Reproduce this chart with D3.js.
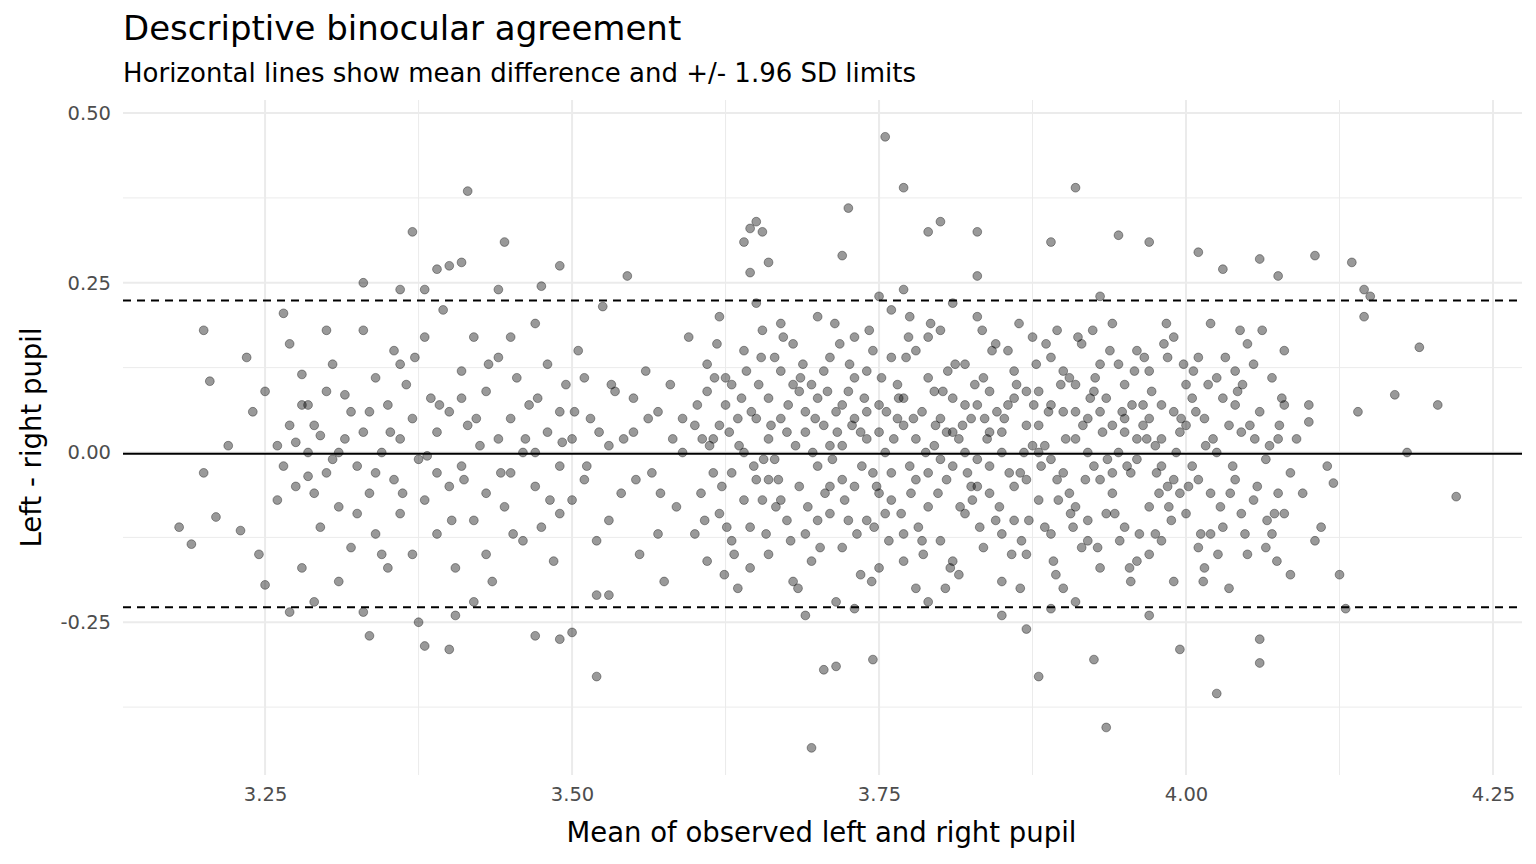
<!DOCTYPE html>
<html>
<head>
<meta charset="utf-8">
<script src="https://cdn.jsdelivr.net/npm/d3@7"></script>
<style>
  body { margin: 0; background: #fff; }
  text { font-family: "DejaVu Sans", sans-serif; }
</style>
</head>
<body>
<svg id="chart" width="1536" height="864"></svg>
<script>
// mean of left/right pupil vs left - right difference
const outerPoints = [
  [3.18,-0.11],[3.19,-0.135],[3.20,0.18],[3.20,-0.03],[3.205,0.105],[3.21,-0.095],[3.22,0.01],[3.23,-0.115],
  [3.235,0.14],[3.24,0.06],[3.245,-0.15],[3.25,0.09],[3.25,-0.195],[3.26,-0.07],[3.265,0.205],[3.27,0.16],
  [3.27,-0.235],[3.28,0.115],[3.285,0.07],[3.29,-0.22],[3.30,0.18],[3.31,-0.19],[3.33,0.25],[3.335,-0.27],
  [3.33,-0.235],[3.36,0.24],[3.37,0.325],[3.375,-0.25],[3.38,-0.285],[3.38,0.24],[3.39,0.27],[3.40,0.275],
  [3.40,-0.29],[3.405,-0.24],[3.41,0.28],[3.415,0.385],[3.42,-0.22],[3.445,0.31],[3.44,0.24],[3.47,-0.27],
  [3.475,0.245],[3.49,0.275],[3.49,-0.275],[3.50,-0.265],[3.52,-0.33],[3.525,0.215],[3.52,-0.21],[3.53,-0.21],
  [3.545,0.26],[3.64,0.31],[3.645,0.33],[3.65,0.34],[3.655,0.325],[3.66,0.28],[3.645,0.265],[3.695,-0.435],
  [3.705,-0.32],[3.715,-0.315],[3.72,0.29],[3.725,0.36],[3.745,-0.305],[3.755,0.465],[3.77,0.39],[3.79,0.325],
  [3.80,0.34],[3.83,0.325],[3.88,-0.33],[3.89,0.31],[3.91,0.39],[3.925,-0.305],[3.935,-0.405],[3.945,0.32],
  [3.97,0.31],[3.995,-0.29],[4.01,0.295],[4.025,-0.355],[4.03,0.27],[4.06,0.285],[4.06,-0.275],[4.06,-0.31],
  [4.075,0.26],[4.085,-0.18],[4.105,0.29],[4.105,-0.13],[4.11,-0.11],[4.125,-0.18],[4.13,-0.23],[4.135,0.28],
  [4.14,0.06],[4.145,0.2],[4.145,0.24],[4.15,0.23],[4.17,0.085],[4.18,0.0],[4.19,0.155],[4.205,0.07],
  [4.22,-0.065],[4.115,-0.02],[4.12,-0.045],[4.10,0.045],[4.09,0.02],[4.095,-0.06],[4.10,0.07],[4.08,-0.09]
];
const leftCluster = [
  [3.26,0.01],[3.265,-0.02],[3.27,0.04],[3.275,-0.05],[3.28,-0.17],[3.285,0.0],[3.29,0.04],[3.295,-0.11],
  [3.30,0.09],[3.30,-0.03],[3.305,0.13],[3.31,-0.08],[3.315,0.02],[3.32,-0.14],[3.32,0.06],[3.325,-0.02],
  [3.33,0.18],[3.33,0.03],[3.335,-0.06],[3.34,0.11],[3.34,-0.12],[3.345,0.0],[3.35,0.07],[3.35,-0.17],
  [3.355,0.15],[3.355,-0.04],[3.36,0.02],[3.36,-0.09],[3.365,0.1],[3.37,-0.15],[3.37,0.05],[3.375,-0.01],
  [3.38,0.17],[3.38,-0.07],[3.385,0.08],[3.39,-0.12],[3.39,0.03],[3.395,0.21],[3.40,-0.05],[3.40,0.06],
  [3.405,-0.17],[3.41,0.12],[3.41,-0.02],[3.415,0.04],[3.42,-0.1],[3.42,0.17],[3.425,0.01],[3.43,-0.06],
  [3.43,0.09],[3.435,-0.19],[3.44,0.02],[3.44,0.14],[3.445,-0.08],[3.45,0.05],[3.45,-0.03],[3.455,0.11],
  [3.46,-0.13],[3.46,0.0],[3.465,0.07],[3.47,-0.05],[3.47,0.19],[3.475,-0.11],[3.48,0.03],[3.48,0.13],
  [3.485,-0.16],[3.49,0.06],[3.49,-0.02],[3.495,0.1],[3.50,-0.07],[3.50,0.02],[3.505,0.15],[3.51,-0.04],
  [3.515,0.05],[3.52,-0.13],[3.53,0.01],[3.535,0.09],[3.54,-0.06],[3.55,0.03],[3.555,-0.15],[3.56,0.12],
  [3.565,-0.03],[3.57,0.06],[3.575,-0.19],[3.58,0.1],[3.585,-0.08],[3.59,0.0],[3.595,0.17],[3.60,-0.12],
  [3.28,0.07],[3.29,-0.06],[3.31,0.0],[3.34,-0.03],[3.36,0.13],[3.39,-0.03],[3.41,0.08],[3.43,-0.15],
  [3.45,0.17],[3.47,0.0],[3.49,-0.09],[3.51,0.11],[3.53,-0.1],[3.55,0.08],[3.57,-0.12],[3.59,0.05],
  [3.275,0.015],[3.285,-0.035],[3.295,0.025],[3.305,-0.01],[3.315,0.085],[3.325,-0.09],[3.335,0.06],[3.345,-0.15],
  [3.352,0.03],[3.362,-0.06],[3.372,0.14],[3.382,-0.005],[3.392,0.07],[3.402,-0.1],[3.412,-0.04],[3.422,0.05],
  [3.432,0.13],[3.442,-0.03],[3.452,-0.12],[3.462,0.02],[3.472,0.08],[3.482,-0.07],[3.492,0.015],[3.502,0.06],
  [3.512,-0.02],[3.522,0.03],[3.532,0.1],[3.542,0.02],[3.552,-0.04],[3.562,0.05],[3.572,-0.06],[3.582,0.02]
];
const centreCluster = [
  [3.60,0.04],[3.605,-0.06],[3.61,0.13],[3.61,-0.16],[3.615,0.02],[3.62,-0.09],[3.62,0.2],[3.625,0.07],
  [3.63,-0.03],[3.63,0.1],[3.635,-0.2],[3.64,0.0],[3.64,0.15],[3.645,-0.11],[3.65,0.05],[3.65,-0.04],
  [3.655,0.18],[3.66,-0.15],[3.66,0.08],[3.665,-0.01],[3.67,0.12],[3.67,-0.07],[3.675,0.03],[3.68,-0.19],
  [3.68,0.16],[3.685,-0.05],[3.69,0.06],[3.69,-0.12],[3.695,0.1],[3.70,-0.02],[3.70,0.2],[3.705,0.04],
  [3.71,-0.09],[3.71,0.14],[3.715,-0.22],[3.72,0.01],[3.72,-0.14],[3.725,0.09],[3.73,-0.05],[3.73,0.17],
  [3.735,0.03],[3.74,-0.1],[3.74,0.12],[3.745,-0.03],[3.75,0.07],[3.75,-0.17],[3.755,0.0],[3.76,0.21],
  [3.76,-0.07],[3.765,0.1],[3.77,-0.12],[3.77,0.04],[3.775,-0.02],[3.78,0.15],[3.78,-0.2],[3.785,0.06],
  [3.79,-0.08],[3.79,0.11],[3.795,0.01],[3.80,-0.13],[3.80,0.18],[3.805,-0.04],[3.81,0.08],[3.81,-0.16],
  [3.815,0.02],[3.82,0.13],[3.82,-0.09],[3.825,0.05],[3.83,-0.01],[3.83,0.2],[3.835,-0.14],[3.84,0.09],
  [3.84,-0.06],[3.845,0.16],[3.85,0.0],[3.85,-0.19],[3.855,0.07],[3.86,-0.1],[3.86,0.12],[3.865,-0.03],
  [3.87,0.04],[3.87,-0.15],[3.875,0.17],[3.88,-0.07],[3.88,0.09],[3.885,0.01],[3.89,-0.12],[3.89,0.14],
  [3.895,-0.04],[3.90,0.06],[3.90,-0.2],[3.905,0.11],[3.91,-0.08],[3.91,0.02],[3.915,0.16],[3.92,-0.13],
  [3.92,0.05],[3.925,-0.02],[3.93,0.13],[3.93,-0.17],[3.935,0.08],[3.94,-0.06],[3.94,0.19],[3.945,0.0],
  [3.95,-0.11],[3.95,0.1],[3.955,-0.03],[3.96,0.15],[3.96,-0.16],[3.965,0.04],[3.97,-0.08],[3.97,0.12],
  [3.975,0.01],[3.98,-0.13],[3.98,0.07],[3.985,-0.05],[3.99,0.17],[3.99,-0.19],[3.995,0.03],[4.00,-0.09],
  [4.00,0.1],[4.005,-0.02],[4.01,0.14],[4.01,-0.14],[4.015,0.05],[4.02,-0.06],[4.02,0.19],[4.025,0.0],
  [4.03,-0.11],[4.03,0.08],[4.035,-0.2],[4.04,0.12],[4.04,-0.04],[4.045,0.03],[4.05,-0.15],[4.05,0.16],
  [4.055,-0.07],[4.06,0.06],[4.065,-0.01],[4.07,0.11],[4.07,-0.12],[4.075,0.02],[4.08,0.07],[4.085,-0.03],
  [3.615,-0.03],[3.625,0.11],[3.635,0.05],[3.645,-0.17],[3.655,-0.07],[3.665,0.14],[3.675,-0.1],[3.685,0.09],
  [3.695,-0.16],[3.705,0.12],[3.715,0.06],[3.725,-0.1],[3.735,-0.18],[3.745,0.15],[3.755,-0.09],[3.765,0.05],
  [3.775,0.2],[3.785,-0.13],[3.795,0.09],[3.805,0.03],[3.815,-0.18],[3.825,-0.05],[3.835,0.11],[3.845,-0.1],
  [3.855,0.15],[3.865,-0.2],[3.875,0.01],[3.885,-0.11],[3.895,0.18],[3.905,-0.06],[3.915,-0.14],[3.925,0.09],
  [3.935,-0.09],[3.945,0.13],[3.955,-0.19],[3.965,0.07],[3.975,-0.12],[3.985,0.14],[3.995,-0.06],[4.005,0.08],
  [4.015,-0.17],[4.025,0.11],[4.035,0.04],[4.045,-0.09],[4.055,0.13],[4.065,-0.14],[4.075,-0.06],[4.08,0.15],
  [3.62,0.04],[3.64,-0.07],[3.66,0.02],[3.68,0.1],[3.70,-0.1],[3.72,0.07],[3.74,0.02],[3.76,0.14],
  [3.78,-0.04],[3.80,0.05],[3.82,0.0],[3.84,0.03],[3.86,-0.05],[3.88,0.0],[3.90,0.12],[3.92,-0.1],
  [3.94,0.04],[3.96,-0.01],[3.98,0.02],[4.00,0.04],[4.02,-0.12],[4.04,0.07],[3.63,-0.13],[3.67,0.19],
  [3.71,-0.05],[3.73,0.11],[3.75,0.03],[3.77,-0.16],[3.79,0.17],[3.81,-0.02],[3.83,0.07],[3.85,-0.12],
  [3.87,0.09],[3.89,-0.01],[3.91,0.1],[3.93,-0.04],[3.95,0.03],[3.97,-0.15],[3.99,0.06],[4.01,-0.04],
  [3.69,0.03],[3.73,-0.23],[3.77,0.24],[3.81,0.22],[3.85,-0.24],[3.89,-0.23],[3.93,0.23],[3.97,-0.24],
  [3.61,0.09],[3.65,0.22],[3.69,-0.24],[3.75,0.23],[3.79,-0.22],[3.83,0.26],[3.87,-0.26],[3.91,-0.22]
];
const denseCore = [
  [3.602,0.07],[3.608,-0.1],[3.612,0.01],[3.618,0.16],[3.622,-0.05],[3.628,0.03],[3.632,-0.15],[3.638,0.08],
  [3.642,0.12],[3.648,-0.02],[3.652,0.1],[3.658,-0.12],[3.662,0.04],[3.668,-0.04],[3.672,0.17],[3.678,-0.13],
  [3.682,0.01],[3.688,0.13],[3.692,-0.08],[3.698,0.05],[3.702,-0.14],[3.708,0.09],[3.712,-0.01],[3.718,0.16],
  [3.722,-0.07],[3.728,0.04],[3.732,-0.12],[3.738,0.08],[3.742,0.18],[3.748,-0.05],[3.752,0.11],[3.758,-0.13],
  [3.762,0.02],[3.768,-0.09],[3.772,0.14],[3.778,0.05],[3.782,-0.11],[3.788,0.0],[3.792,0.19],[3.798,-0.06],
  [3.802,0.09],[3.808,-0.17],[3.812,0.13],[3.818,0.04],[3.822,-0.03],[3.828,0.1],[3.832,-0.11],[3.838,0.02],
  [3.842,0.15],[3.848,-0.08],[3.852,0.05],[3.858,-0.15],[3.862,0.1],[3.868,0.0],[3.872,-0.1],[3.878,0.13],
  [3.882,-0.02],[3.888,0.06],[3.892,-0.16],[3.898,0.1],[3.902,0.02],[3.908,-0.11],[3.912,0.17],[3.918,-0.04],
  [3.922,0.08],[3.928,-0.14],[3.932,0.03],[3.938,0.15],[3.942,-0.09],[3.948,0.06],[3.952,-0.02],[3.958,0.12],
  [3.962,-0.12],[3.968,0.02],[3.972,0.09],[3.978,-0.06],[3.982,0.16],[3.988,-0.1],[3.992,0.0],[3.998,0.13],
  [4.002,-0.05],[4.008,0.06],[4.012,-0.12],[4.018,0.1],[4.022,0.02],[4.028,-0.08],[4.032,0.14],[4.038,-0.02],
  [4.042,0.09],[4.048,-0.12],[4.052,0.04],[4.058,-0.05],[4.062,0.18],[4.068,0.01],[4.072,-0.09],[4.078,0.08],
  [3.606,0.02],[3.626,-0.11],[3.646,0.06],[3.666,-0.08],[3.686,0.11],[3.706,-0.06],[3.726,0.13],[3.746,-0.11],
  [3.766,0.08],[3.786,-0.15],[3.806,0.12],[3.826,-0.07],[3.846,0.06],[3.866,-0.13],[3.886,0.16],[3.906,-0.09],
  [3.926,0.11],[3.946,-0.13],[3.966,0.14],[3.986,-0.08],[4.006,0.12],[4.026,-0.15],[4.046,0.1],[4.066,-0.1],
  [3.616,0.11],[3.636,0.01],[3.656,-0.01],[3.676,0.07],[3.696,0.0],[3.716,0.03],[3.736,-0.02],[3.756,0.06],
  [3.776,-0.06],[3.796,0.04],[3.816,-0.08],[3.836,0.05],[3.856,-0.03],[3.876,0.07],[3.896,-0.07],[3.916,0.04],
  [3.936,-0.01],[3.956,0.07],[3.976,-0.03],[3.996,0.05],[4.016,0.01],[4.036,-0.06],[4.056,0.02],[4.076,0.04],
  [3.624,-0.18],[3.654,0.14],[3.684,-0.2],[3.714,0.19],[3.744,-0.19],[3.774,0.17],[3.804,-0.2],[3.834,0.18],
  [3.864,0.19],[3.894,-0.18],[3.924,0.18],[3.954,-0.17],[3.984,0.19],[4.014,-0.19],[4.044,0.18],[4.074,-0.16],
  [3.85,0.03],[3.86,0.08],[3.87,-0.04],[3.88,0.04],[3.89,0.07],[3.90,-0.03],[3.91,0.06],[3.92,0.0],
  [3.80,-0.01],[3.81,0.03],[3.82,0.07],[3.83,-0.05],[3.84,-0.02],[3.93,0.06],[3.94,-0.03],[3.95,0.05],
  [3.96,0.02],[3.97,0.05],[3.98,-0.02],[3.99,-0.04],[3.74,0.06],[3.75,-0.06],[3.76,-0.03],[3.77,0.08],
  [3.78,0.02],[3.79,-0.03],[3.70,0.08],[3.71,0.01],[3.72,-0.04],[3.73,0.05],[3.66,-0.04],[3.67,0.05]
];
const xTicks = [3.25, 3.5, 3.75, 4.0, 4.25];
const yTicks = [-0.25, 0, 0.25, 0.5];
const meanDiff = -0.002;
const loaLimits = [-0.228, 0.224];

const points = outerPoints.concat(leftCluster, centreCluster, denseCore);

const svg = d3.select("#chart");
const margin = { top: 100, right: 14, bottom: 89, left: 123 };
const W = 1536, H = 864;

const x = d3.scaleLinear([3.1343, 4.2736], [margin.left, W - margin.right]);
const y = d3.scaleLinear([-0.475, 0.5192], [H - margin.bottom, margin.top]);

const grid = svg.append("g");
const minorX = [3.375, 3.625, 3.875, 4.125];
const minorY = [-0.375, -0.125, 0.125, 0.375];
grid.selectAll(".mx").data(minorX).join("line")
  .attr("x1", d => x(d)).attr("x2", d => x(d))
  .attr("y1", margin.top).attr("y2", H - margin.bottom)
  .attr("stroke", "#ebebeb").attr("stroke-width", 1);
grid.selectAll(".my").data(minorY).join("line")
  .attr("y1", d => y(d)).attr("y2", d => y(d))
  .attr("x1", margin.left).attr("x2", W - margin.right)
  .attr("stroke", "#ebebeb").attr("stroke-width", 1);
grid.selectAll(".Mx").data(xTicks).join("line")
  .attr("x1", d => x(d)).attr("x2", d => x(d))
  .attr("y1", margin.top).attr("y2", H - margin.bottom)
  .attr("stroke", "#ebebeb").attr("stroke-width", 2);
grid.selectAll(".My").data(yTicks).join("line")
  .attr("y1", d => y(d)).attr("y2", d => y(d))
  .attr("x1", margin.left).attr("x2", W - margin.right)
  .attr("stroke", "#ebebeb").attr("stroke-width", 2);

svg.append("g").selectAll("circle").data(points).join("circle")
  .attr("cx", d => x(d[0])).attr("cy", d => y(d[1])).attr("r", 4.4)
  .attr("fill", "rgba(0,0,0,0.4)").attr("stroke", "rgba(0,0,0,0.45)").attr("stroke-width", 0.8);

svg.append("line")
  .attr("x1", margin.left).attr("x2", W - margin.right)
  .attr("y1", y(meanDiff)).attr("y2", y(meanDiff))
  .attr("stroke", "#000").attr("stroke-width", 2);
svg.selectAll(".loa").data(loaLimits).join("line")
  .attr("x1", margin.left).attr("x2", W - margin.right)
  .attr("y1", d => y(d)).attr("y2", d => y(d))
  .attr("stroke", "#000").attr("stroke-width", 2).attr("stroke-dasharray", "8,6");

const fmt = d => d3.format(".2f")(d).replace("−", "-");
const xAxis = svg.append("g").attr("transform", `translate(0,${H - margin.bottom})`)
  .call(d3.axisBottom(x).tickValues(xTicks).tickFormat(fmt).tickSize(0).tickPadding(12));
const yAxis = svg.append("g").attr("transform", `translate(${margin.left},0)`)
  .call(d3.axisLeft(y).tickValues(yTicks).tickFormat(fmt).tickSize(0).tickPadding(12));
[xAxis, yAxis].forEach(g => {
  g.select(".domain").remove();
  g.selectAll("text").attr("font-size", 19.5).attr("fill", "#4d4d4d")
    .attr("font-family", "DejaVu Sans, sans-serif");
});

svg.append("text").attr("x", 123).attr("y", 40).attr("font-size", 34).text("Descriptive binocular agreement");
svg.append("text").attr("x", 123).attr("y", 82).attr("font-size", 26)
  .text("Horizontal lines show mean difference and +/- 1.96 SD limits");
svg.append("text").attr("x", (margin.left + W - margin.right) / 2 - 1).attr("y", 842)
  .attr("text-anchor", "middle").attr("font-size", 27.5).text("Mean of observed left and right pupil");
svg.append("text").attr("transform", `translate(41,${(margin.top + H - margin.bottom) / 2}) rotate(-90)`)
  .attr("text-anchor", "middle").attr("font-size", 27.5).text("Left - right pupil");
</script>
</body>
</html>
